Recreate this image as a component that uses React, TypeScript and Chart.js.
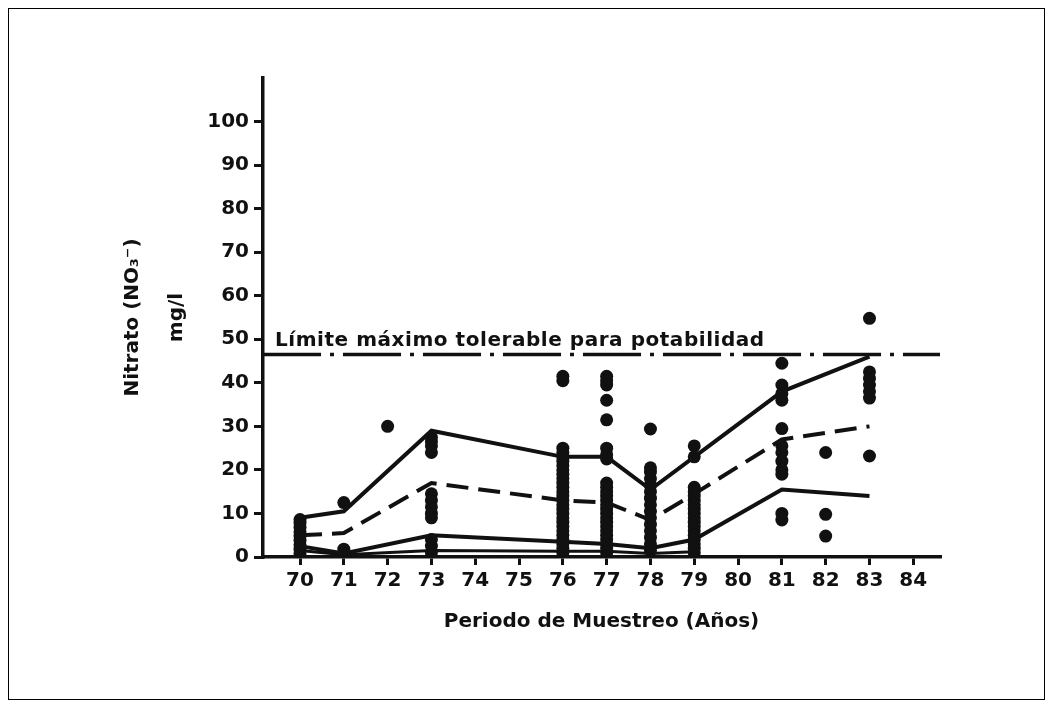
import React, { useEffect, useRef } from "react";
import { Chart, registerables } from "chart.js";

Chart.register(...registerables);

// ---- data ----
const lineYears = [70, 71, 73, 76, 77, 78, 79, 81, 83];
const maxValues = [9, 10.5, 29, 23, 23, 15.5, 23, 38, 46];
const meanValues = [5, 5.5, 17, 13, 12.5, 8.5, 14.5, 27, 30];
const lowValues = [2.5, 0.8, 5, 3.5, 3, 2, 4, 15.5, 14];
const minYears = [70, 71, 73, 76, 77, 78, 79];
const minValues = [1.5, 0.5, 1.5, 1.3, 1.3, 0.8, 1.2];

const samples70 = [0.8, 1.8, 2.8, 3.8, 4.8, 5.8, 6.8, 7.8, 8.6];
const samples71 = [12.5, 1.8, 0.8];
const samples72 = [30];
const samples73 = [27.5, 26.5, 25.5, 24, 14.5, 13, 11.5, 10, 9, 4, 2.5, 1];
const samples76 = [41.5, 40.5, 25, 24, 23, 22, 21, 20, 19, 18, 17, 16, 15, 14, 13, 12, 11, 10, 9, 8, 7, 6, 5, 4, 3, 2, 1];
const samples77 = [41.5, 40.5, 39.5, 36, 31.5, 25, 23.5, 22.5, 17, 16, 15, 14, 13, 12, 11, 10, 9, 8, 7, 6, 5, 4, 3, 2, 1];
const samples78 = [29.4, 20.5, 19.5, 18, 16.5, 15, 13.5, 12, 10.5, 9, 7.5, 6, 4.5, 3, 1.5];
const samples79 = [25.5, 23, 16, 15, 14, 13, 12, 11, 10, 9, 8, 7, 6, 5, 4, 3, 2, 1];
const samples81 = [44.5, 39.5, 37.5, 36, 29.5, 25.5, 24, 22, 20, 19, 10, 8.5];
const samples82 = [24, 9.8, 4.8];
const samples83 = [54.8, 42.5, 41, 39.5, 38, 36.5, 23.2];

const sampleYears = [70, 71, 72, 73, 76, 77, 78, 79, 81, 82, 83];
const sampleGroups = [samples70, samples71, samples72, samples73, samples76, samples77, samples78, samples79, samples81, samples82, samples83];

const xTickValues = [70, 71, 72, 73, 74, 75, 76, 77, 78, 79, 80, 81, 82, 83, 84];
const yTickValues = [0, 10, 20, 30, 40, 50, 60, 70, 80, 90, 100];

const limitValue = 46.5;
const limitLabel = "Límite máximo tolerable para potabilidad";
const xTitle = "Periodo de Muestreo (Años)";
const yTitle = ["Nitrato (NO₃⁻)", "mg/l"];

const X_MIN = 69.155;
const X_MAX = 84.61;
const Y_MAX = 110;

const INK = "#111111";
const FONT = "'DejaVu Sans', sans-serif";

const limitLabelPlugin = {
  id: "limitLabel",
  afterDatasetsDraw(chart: any) {
    const { ctx, scales } = chart;
    const xs = scales.x;
    const ys = scales.y;
    const x0 = xs.getPixelForValue(69.43);
    const x1 = xs.getPixelForValue(80.6);
    const y = ys.getPixelForValue(limitValue) - 9;
    ctx.save();
    ctx.font = `bold 20px ${FONT}`;
    ctx.fillStyle = INK;
    ctx.textBaseline = "alphabetic";
    ctx.textAlign = "left";
    const w = ctx.measureText(limitLabel).width;
    const spacing = (x1 - x0 - w) / (limitLabel.length - 1);
    (ctx as any).letterSpacing = `${spacing.toFixed(2)}px`;
    ctx.fillText(limitLabel, x0, y);
    ctx.restore();
  },
};

export default function App() {
  const ref = useRef<HTMLCanvasElement | null>(null);

  useEffect(() => {
    if (!ref.current) return;
    const points: { x: number; y: number }[] = [];
    sampleYears.forEach((yr, i) => {
      sampleGroups[i].forEach((v) => points.push({ x: yr, y: v }));
    });
    const toXY = (xs: number[], ys: number[]) => xs.map((x, i) => ({ x, y: ys[i] }));

    const chart = new Chart(ref.current, {
      type: "scatter",
      data: {
        datasets: [
          {
            type: "line",
            data: [
              { x: X_MIN, y: limitValue },
              { x: X_MAX, y: limitValue },
            ],
            borderColor: INK,
            borderWidth: 3.5,
            borderDash: [58, 9, 4, 9],
            pointRadius: 0,
            fill: false,
          },
          {
            type: "line",
            data: toXY(lineYears, maxValues),
            borderColor: INK,
            borderWidth: 4,
            pointRadius: 0,
            tension: 0,
            fill: false,
          },
          {
            type: "line",
            data: toXY(lineYears, meanValues),
            borderColor: INK,
            borderWidth: 4,
            borderDash: [22, 10],
            pointRadius: 0,
            tension: 0,
            fill: false,
          },
          {
            type: "line",
            data: toXY(lineYears, lowValues),
            borderColor: INK,
            borderWidth: 4,
            pointRadius: 0,
            tension: 0,
            fill: false,
          },
          {
            type: "line",
            data: toXY(minYears, minValues),
            borderColor: INK,
            borderWidth: 3,
            pointRadius: 0,
            tension: 0,
            fill: false,
          },
          {
            type: "scatter",
            data: points,
            backgroundColor: INK,
            borderColor: INK,
            borderWidth: 0,
            pointRadius: 6.5,
          },
        ],
      },
      options: {
        responsive: false,
        animation: false,
        events: [],
        layout: { padding: { top: 69, right: 104, bottom: 62, left: 0 } },
        plugins: {
          legend: { display: false },
          tooltip: { enabled: false },
        },
        scales: {
          x: {
            type: "linear",
            min: X_MIN,
            max: X_MAX,
            afterBuildTicks: (scale: any) => {
              scale.ticks = xTickValues.map((v) => ({ value: v }));
            },
            afterFit: (scale: any) => {
              scale.height = 80;
            },
            ticks: {
              autoSkip: false,
              maxRotation: 0,
              padding: 4,
              color: INK,
              font: { family: FONT, size: 20, weight: "bold" },
              callback: (v: any) => String(v),
            },
            grid: {
              drawOnChartArea: false,
              drawTicks: true,
              tickLength: 8,
              color: INK,
              lineWidth: 3,
            },
            border: { display: true, color: INK, width: 3.5 },
            title: {
              display: true,
              text: xTitle,
              color: INK,
              font: { family: FONT, size: 20, weight: "bold" },
              padding: { top: 0, bottom: 3 },
            },
          },
          y: {
            type: "linear",
            min: 0,
            max: Y_MAX,
            afterBuildTicks: (scale: any) => {
              scale.ticks = yTickValues.map((v) => ({ value: v }));
            },
            afterFit: (scale: any) => {
              scale.width = 254;
            },
            ticks: {
              autoSkip: false,
              padding: 5,
              color: INK,
              font: { family: FONT, size: 20, weight: "bold" },
              callback: (v: any) => String(v),
            },
            grid: {
              drawOnChartArea: false,
              drawTicks: true,
              tickLength: 9,
              color: INK,
              lineWidth: 3,
            },
            border: { display: true, color: INK, width: 3.5 },
            title: {
              display: true,
              text: yTitle,
              color: INK,
              font: { family: FONT, size: 20, weight: "bold", lineHeight: 2.2 },
              padding: { top: 102, bottom: 0 },
            },
          },
        },
      },
      plugins: [limitLabelPlugin],
    } as any);

    return () => chart.destroy();
  }, []);

  return (
    <div style={{ width: 1035, height: 690, border: "1px solid #000", background: "#fff" }}>
      <canvas ref={ref} width={1035} height={690} style={{ display: "block" }} />
    </div>
  );
}
